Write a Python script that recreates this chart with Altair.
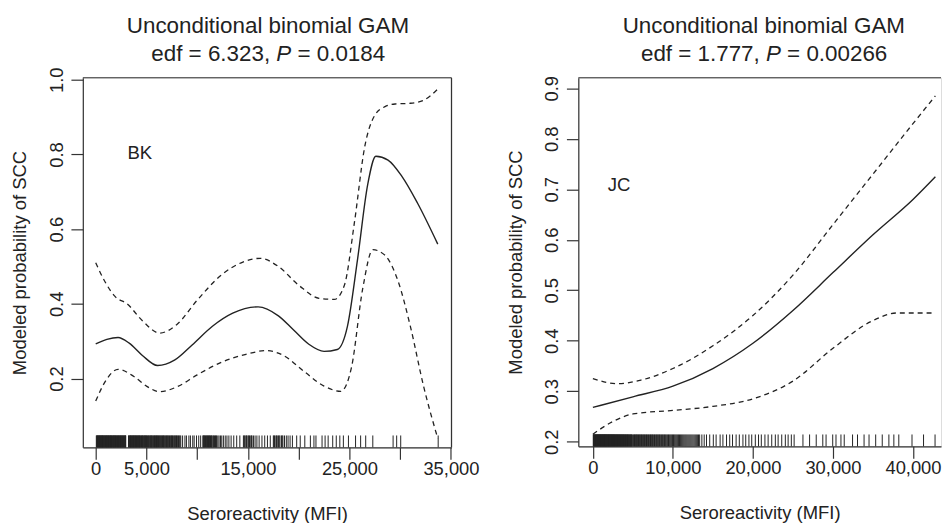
import altair as alt
import pandas as pd

FONT = "Liberation Sans"
INK = "#222222"

# ---------------- BK panel data ----------------
bk_fit_x = [0, 1100, 2200, 3300, 4600, 6100, 7800, 9500, 11500, 13500, 16000, 18000, 19500, 21000, 22500, 23800, 24800, 25800, 26800, 27600, 28800, 30200, 31700, 33700]
bk_fit_y = [0.293, 0.305, 0.310, 0.295, 0.262, 0.235, 0.250, 0.290, 0.340, 0.375, 0.392, 0.368, 0.330, 0.292, 0.273, 0.278, 0.340, 0.520, 0.720, 0.795, 0.785, 0.740, 0.670, 0.560]
bk_up_x = [0, 900, 1900, 3100, 4600, 6300, 8000, 10000, 12500, 14500, 16200, 18000, 20000, 22000, 23500, 24500, 25500, 26500, 27500, 28500, 29500, 31000, 32300, 33700]
bk_up_y = [0.510, 0.460, 0.420, 0.400, 0.355, 0.322, 0.345, 0.410, 0.480, 0.512, 0.522, 0.500, 0.450, 0.415, 0.412, 0.450, 0.620, 0.820, 0.905, 0.928, 0.935, 0.937, 0.945, 0.975]
bk_lo_x = [0, 1000, 2200, 3800, 5000, 6300, 8000, 10000, 12500, 14800, 16800, 18500, 20500, 22500, 24150, 25200, 26300, 27300, 28500, 29800, 31000, 32300, 33700]
bk_lo_y = [0.140, 0.195, 0.225, 0.205, 0.180, 0.165, 0.178, 0.210, 0.245, 0.265, 0.275, 0.262, 0.220, 0.180, 0.166, 0.230, 0.440, 0.545, 0.530, 0.460, 0.340, 0.180, 0.040]
bk_rug_a = [60, 140, 210, 290, 350, 420, 500, 560, 640, 700, 780, 850, 930, 1010, 1080, 1150, 1230, 1300, 1380, 1460,
            1520, 1600, 1690, 1760, 1840, 1910, 1990, 2070, 2150, 2240, 2310, 2400, 2480, 2560, 2650, 2730, 2820, 2900, 2960,
            3230, 3310, 3400, 3470, 3560, 3640, 3730, 3800, 3890, 3970, 4060, 4150, 4230, 4320, 4400, 4510, 4600, 4680,
            4790, 4870, 4960, 5050, 5170, 5260, 5380, 5470, 5560, 5680, 5790, 5880, 5990, 6080, 6190, 6300, 6410, 6520,
            6640, 6730, 6860, 6980, 7090, 7200, 7340, 7460, 7570, 7710, 7840, 7960, 8090, 8230, 8380,
            8560, 8790, 8940, 9180, 9330, 9560, 9700, 9930, 10150, 10340,
            10560, 10650, 10740, 10820, 10930, 11020, 11110, 11200, 11310, 11390, 11480, 11590, 11700, 11800, 11910,
            12030, 12150, 12290, 12420, 12580, 12760, 12930, 13120, 13340,
            13600, 13890, 14200,
            14550, 14680, 14790, 14910, 15030, 15150, 15280, 15400, 15540, 15700, 15880,
            16100, 16380, 16650, 16920, 17200,
            17500, 17620, 17750, 17880, 18000, 18150, 18300, 18440, 18600, 18780, 18950, 19150, 19380,
            19800, 20150, 20600, 21150, 21500, 21700, 22300, 22600, 22900, 23350, 23700, 24050, 24400, 24900,
            25600, 26100, 26600, 27300, 29300, 29650, 30050, 33740]
bk_rug_b = [100, 175, 250, 320, 385, 460, 530, 600, 670, 740, 815, 890, 970, 1045, 1115, 1190, 1265, 1340, 1420, 1490,
            1560, 1645, 1725, 1800, 1875, 1950, 2030, 2110, 2195, 2275, 2355, 2440, 2520, 2605, 2690, 2775, 2860, 2930,
            3270, 3355, 3435, 3515, 3600, 3685, 3765, 3845, 3930, 4015, 4105, 4190, 4275, 4360, 4455, 4555, 4640, 4735,
            4830, 4915, 5010, 5110, 5215, 5320, 5425, 5515, 5620, 5735, 5835, 5935, 6035, 6135, 6245, 6355, 6465, 6580,
            6685, 6795, 6920, 7035, 7145, 7270, 7400, 7515, 7640, 7775, 7900, 8025, 8160, 8300,
            10600, 10700, 10870, 10980, 11150, 11250, 11430, 11640, 11850, 14620, 14850, 15090, 15340, 17560, 17820, 18070, 18370]

# ---------------- JC panel data ----------------
jc_fit_x = [0, 5000, 10000, 15000, 20000, 25000, 30000, 35000, 40000, 42800]
jc_fit_y = [0.268, 0.289, 0.310, 0.345, 0.395, 0.460, 0.535, 0.610, 0.680, 0.725]
jc_up_x = [0, 3000, 6000, 10000, 15000, 20000, 25000, 30000, 35000, 40000, 42800]
jc_up_y = [0.325, 0.315, 0.322, 0.345, 0.390, 0.450, 0.530, 0.630, 0.730, 0.830, 0.885]
jc_lo_x = [0, 2500, 5000, 10000, 15000, 20000, 25000, 30000, 35000, 38000, 42500]
jc_lo_y = [0.215, 0.240, 0.255, 0.262, 0.270, 0.285, 0.320, 0.385, 0.440, 0.455, 0.455]
jc_rug_a = [50, 120, 190, 260, 330, 400, 470, 540, 610, 680, 750, 820, 890, 960, 1030, 1100, 1170, 1240, 1310, 1380,
            1450, 1520, 1590, 1660, 1730, 1800, 1880, 1950, 2030, 2100, 2180, 2250, 2330, 2410, 2490, 2570, 2650, 2730,
            2810, 2900, 2980, 3070, 3150, 3240, 3330, 3420, 3510, 3600, 3690, 3790, 3880, 3980, 4080, 4180, 4280, 4380,
            4490, 4600, 4710, 4820, 4930,
            5060, 5200, 5350, 5480, 5620, 5780, 5920, 6070, 6230, 6380, 6540, 6700, 6860, 7030, 7200, 7360, 7520, 7700,
            7880, 8050, 8230, 8400, 8590, 8780, 8960, 9150, 9350, 9550, 9760, 9960, 10170, 10380, 10600, 10820, 11050,
            11280, 11520, 11760, 12010, 12260, 12520, 12790, 13060, 13340, 13620, 13910, 14200,
            14600, 15050, 15400, 15900, 16250, 16700, 17100, 17450, 17900, 18300, 18750, 19100, 19500, 19850, 20300,
            20700, 21050, 21500, 21900, 22350, 22800, 23150, 23600, 24050, 24400, 24800, 25150,
            26250, 27080, 27910, 28730, 29140, 29970, 30380, 31000, 31410, 32450, 33070, 33890, 34510, 35340, 36160,
            36990, 37610, 38230, 39880, 41320, 42760]
jc_rug_b = [85, 155, 225, 295, 365, 435, 505, 575, 645, 715, 785, 855, 925, 995, 1065, 1135, 1205, 1275, 1345, 1415,
            1485, 1555, 1625, 1695, 1765, 1840, 1915, 1990, 2065, 2140, 2215, 2290, 2370, 2450, 2530, 2610, 2690, 2770,
            2855, 2940, 3025, 3110, 3195, 3285, 3375, 3465, 3555, 3645, 3740, 3835, 3930, 4030, 4130, 4230, 4330, 4435,
            4545, 4655, 4765, 4875,
            5130, 5275, 5415, 5550, 5700, 5850, 6000, 6150, 6305, 6460, 6620, 6780, 6945, 7115, 7280, 7440, 7610, 7790,
            7965, 8140, 8315, 8495, 8685, 8870, 9055, 9250, 9450, 9655, 9860, 10070, 10275, 10490, 10710, 10935, 11165,
            11400, 11640, 11885, 12135, 12390, 12655, 12925, 13200]

bk_title = ["Unconditional binomial GAM", "edf = 6.323,", "P", "= 0.0184"]
jc_title = ["Unconditional binomial GAM", "edf = 1.777,", "P", "= 0.00266"]
x_title = "Seroreactivity (MFI)"
y_title = "Modeled probability of SCC"


def curve_df(xs, ys):
    return pd.DataFrame({"x": xs, "y": ys, "o": list(range(len(xs)))})


def panel(fit, up, lo, rug, xdom, ydom, xticks, yticks, xlabel_expr, W, H,
          tag, tag_xy, title, tpos, draw_right):
    xs = alt.Scale(domain=xdom, nice=False, zero=False)
    ys = alt.Scale(domain=ydom, nice=False, zero=False)
    xaxis = alt.Axis(values=xticks, labelExpr=xlabel_expr, title=x_title, grid=False,
                     tickSize=12, tickColor="#333", tickWidth=1.2, domainColor="#333", domainWidth=1.2,
                     labelFont=FONT, labelFontSize=18.5, labelColor=INK, labelBaseline="alphabetic",
                     labelPadding=15, labelFlush=False, labelOverlap=False,
                     titleFont=FONT, titleFontSize=18.6, titleFontWeight="normal", titleColor=INK,
                     titleX=W / 2, titleY=73.2, titleBaseline="alphabetic", titleAlign="center")
    yaxis = alt.Axis(values=yticks, format=".1f", title=y_title, grid=False,
                     tickSize=12, tickColor="#333", tickWidth=1.2, domainColor="#333", domainWidth=1.2,
                     labelFont=FONT, labelFontSize=18.5, labelColor=INK, labelAngle=270,
                     labelAlign="center", labelBaseline="alphabetic", labelPadding=9,
                     labelFlush=False, labelOverlap=False,
                     titleFont=FONT, titleFontSize=18.6, titleFontWeight="normal", titleColor=INK,
                     titleAngle=270, titleX=-57.5, titleY=H / 2, titleBaseline="alphabetic",
                     titleAlign="center")
    X = alt.X("x:Q", scale=xs, axis=xaxis)
    Y = alt.Y("y:Q", scale=ys, axis=yaxis)

    solid = alt.Chart(curve_df(*fit)).mark_line(color=INK, strokeWidth=1.4, interpolate="monotone").encode(
        x=X, y=Y, order="o:Q")
    upper = alt.Chart(curve_df(*up)).mark_line(color=INK, strokeWidth=1.3, strokeDash=[5, 4],
                                               interpolate="monotone").encode(x=X, y=Y, order="o:Q")
    lower = alt.Chart(curve_df(*lo)).mark_line(color=INK, strokeWidth=1.3, strokeDash=[5, 4],
                                               interpolate="monotone").encode(x=X, y=Y, order="o:Q")
    rugl = alt.Chart(pd.DataFrame({"x": rug})).mark_rule(color=INK, strokeWidth=1).encode(
        x=X, y=alt.value(H), y2=alt.value(H - 12))

    one = pd.DataFrame({"a": [0]})
    top = alt.Chart(one).mark_rule(color="#333", strokeWidth=1.2).encode(
        x=alt.value(0), x2=alt.value(W), y=alt.value(0))
    layers = [top]
    if draw_right:
        layers.append(alt.Chart(one).mark_rule(color="#333", strokeWidth=1.2).encode(
            x=alt.value(W), y=alt.value(0), y2=alt.value(H)))

    tag_mark = alt.Chart(one).mark_text(text=tag, font=FONT, fontSize=18.7, color=INK, align="left",
                                        baseline="alphabetic").encode(x=alt.value(tag_xy[0]),
                                                                      y=alt.value(tag_xy[1]))
    t1 = alt.Chart(one).mark_text(text=title[0], font=FONT, fontSize=22.6, color=INK, align="center",
                                  baseline="alphabetic").encode(x=alt.value(tpos[0]), y=alt.value(-45.3))
    t2 = alt.Chart(one).mark_text(text=title[1], font=FONT, fontSize=22.6, color=INK, align="right",
                                  baseline="alphabetic").encode(x=alt.value(tpos[1]), y=alt.value(-17))
    t3 = alt.Chart(one).mark_text(text=title[2], font=FONT, fontSize=22.6, fontStyle="italic", color=INK,
                                  align="left", baseline="alphabetic").encode(x=alt.value(tpos[2]),
                                                                              y=alt.value(-17))
    t4 = alt.Chart(one).mark_text(text=title[3], font=FONT, fontSize=22.6, color=INK, align="left",
                                  baseline="alphabetic").encode(x=alt.value(tpos[3]), y=alt.value(-17))

    return alt.layer(rugl, lower, upper, solid, *layers, tag_mark, t1, t2, t3, t4).properties(
        width=W, height=H)


left = panel((bk_fit_x, bk_fit_y), (bk_up_x, bk_up_y), (bk_lo_x, bk_lo_y), bk_rug_a + bk_rug_b,
             [-1270, 35050], [0.016, 1.0053],
             [0, 5000, 10000, 15000, 20000, 25000, 30000, 35000], [0.2, 0.4, 0.6, 0.8, 1.0],
             "(datum.value % 10000 == 0 && datum.value > 0) ? '' : format(datum.value, ',')",
             372, 373, "BK", (45, 81.7), bk_title, (186.8, 189, 195.3, 216.6), True)

right = panel((jc_fit_x, jc_fit_y), (jc_up_x, jc_up_y), (jc_lo_x, jc_lo_y), jc_rug_a + jc_rug_b,
              [-1820, 43505], [0.1908, 0.921],
              [0, 10000, 20000, 30000, 40000], [0.2, 0.3, 0.4, 0.5, 0.6, 0.7, 0.8, 0.9],
              "format(datum.value, ',')",
              366, 372, "JC", (29.7, 114.7), jc_title, (187.2, 183.1, 189.4, 210.7), False)

chart = alt.hconcat(left, right, spacing=128, bounds="flush").properties(
    padding={"left": 2.5, "top": 4, "right": 0, "bottom": 0}
).configure_view(strokeWidth=0).configure(background="white")

chart.save("out.html", embed_options={"renderer": "svg", "actions": False})
